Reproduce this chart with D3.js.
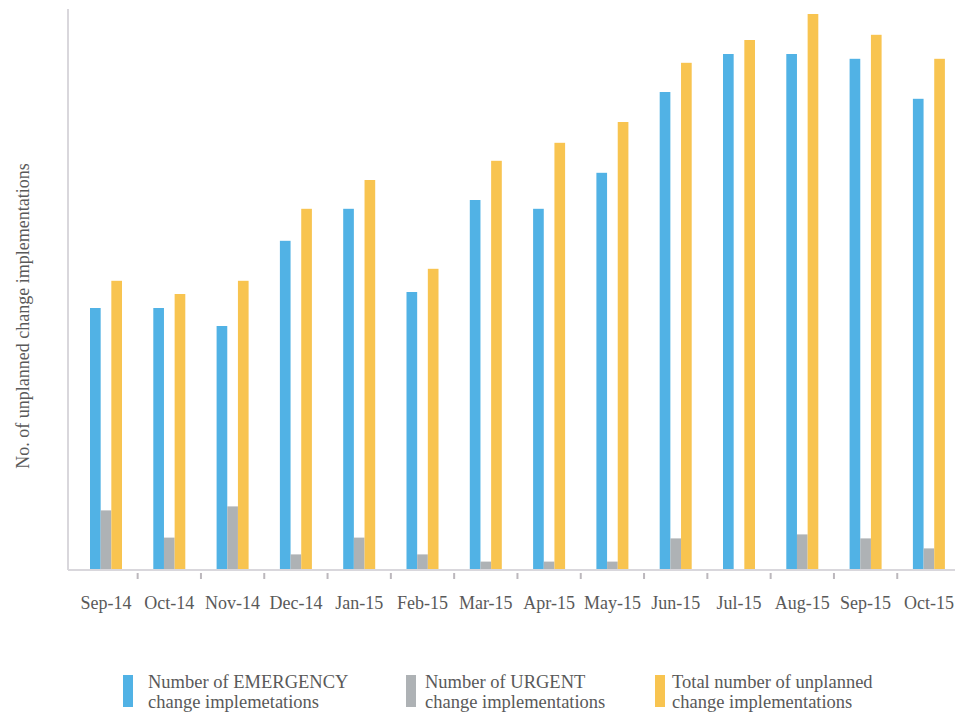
<!DOCTYPE html>
<html>
<head>
<meta charset="utf-8">
<script src="https://cdn.jsdelivr.net/npm/d3@7"></script>
<style>
  html, body { margin: 0; padding: 0; background: #ffffff; }
  svg { display: block; }
  text { font-family: "Liberation Serif", "Times New Roman", serif; fill: #595959; }
</style>
</head>
<body>
<svg id="chart" width="955" height="713"></svg>
<script>
// Monthly unplanned change implementations
const months = ["Sep-14", "Oct-14", "Nov-14", "Dec-14", "Jan-15", "Feb-15", "Mar-15",
                "Apr-15", "May-15", "Jun-15", "Jul-15", "Aug-15", "Sep-15", "Oct-15"];
const emergency = [65.5, 65.5, 61, 82.3, 90.3, 69.5, 92.5, 90.3, 99.3, 119.5, 129, 129, 127.8, 117.8];
const urgent    = [14.9, 8.1, 15.9, 3.9, 8.1, 3.9, 2.1, 2.1, 2.1, 7.9, 0, 8.9, 7.9, 5.4];
const total     = [72.3, 69, 72.3, 90.3, 97.5, 75.3, 102.3, 106.8, 112, 126.8, 132.5, 139, 133.8, 127.8];

const seriesKeys = ["emergency", "urgent", "total"];
const seriesColors = ["#51b2e5", "#aeb2b5", "#f8c450"];
const legendLines = [
  ["Number of EMERGENCY", "change implemetations"],
  ["Number of URGENT", "change implementations"],
  ["Total number of unplanned", "change implementations"]
];

const rows = months.map((m, i) => ({
  month: m, emergency: emergency[i], urgent: urgent[i], total: total[i]
}));

const svg = d3.select("#chart");
const axisColor = "#d9d7dc";
const tickColor = "#bcb8bd";

const yAxisX = 68, baseY = 570, topY = 10;

const x = d3.scaleBand().domain(months).range([74.35, 960.55]).padding(0);
const groupW = 32;
const x1 = d3.scaleBand().domain(seriesKeys)
  .range([(x.bandwidth() - groupW) / 2, (x.bandwidth() + groupW) / 2]).padding(0);
const y = d3.scaleLinear().domain([0, 140]).range([baseY, topY]);
const color = d3.scaleOrdinal().domain(seriesKeys).range(seriesColors);

// bars
const groups = svg.append("g").selectAll("g")
  .data(rows).join("g")
  .attr("transform", d => `translate(${x(d.month)},0)`);

groups.selectAll("rect")
  .data(d => seriesKeys.map(k => ({ key: k, value: d[k] })))
  .join("rect")
  .attr("x", d => x1(d.key))
  .attr("width", x1.bandwidth())
  .attr("y", d => y(d.value))
  .attr("height", d => y(0) - y(d.value))
  .attr("fill", d => color(d.key));

// y axis line (no tick labels)
const yAxis = d3.axisLeft(y).tickValues([]).tickSizeOuter(0);
svg.append("g")
  .attr("transform", `translate(${yAxisX},0)`)
  .call(yAxis)
  .call(g => g.select(".domain").attr("stroke", axisColor).attr("stroke-width", 2)
    .attr("d", `M0,${baseY}V9`));

// x axis: baseline, separator ticks between months, labels
const xAxis = d3.axisBottom(x).tickSize(0).tickPadding(0).tickSizeOuter(0);
const gx = svg.append("g")
  .attr("transform", `translate(0,${baseY})`)
  .call(xAxis);
gx.select(".domain").attr("stroke", axisColor).attr("stroke-width", 2)
  .attr("d", `M${yAxisX},0H955`);
gx.selectAll(".tick text")
  .attr("y", 39)
  .attr("dy", 0)
  .style("font-family", '"Liberation Serif", "Times New Roman", serif')
  .style("font-size", "18px")
  .attr("fill", "#595959");

svg.append("g").selectAll("line")
  .data(months.slice(0, -1))
  .join("line")
  .attr("x1", d => x(d) + x.step())
  .attr("x2", d => x(d) + x.step())
  .attr("y1", baseY + 3)
  .attr("y2", baseY + 9)
  .attr("stroke", tickColor)
  .attr("stroke-width", 2);

// y axis title
svg.append("text")
  .attr("transform", `translate(29,316) rotate(-90)`)
  .attr("text-anchor", "middle")
  .style("font-size", "18px")
  .text("No. of unplanned change implementations");

// legend
const legendX = [123, 406, 655];
const legendTextOffset = [25, 19, 17];
const legend = svg.append("g").selectAll("g")
  .data(seriesKeys).join("g")
  .attr("transform", (d, i) => `translate(${legendX[i]},675)`);
legend.append("rect")
  .attr("width", 10).attr("height", 32)
  .attr("fill", d => color(d));
legend.append("text")
  .attr("y", 13)
  .style("font-size", "18.5px")
  .selectAll("tspan")
  .data((d, i) => legendLines[i].map(t => ({ t, off: legendTextOffset[i] })))
  .join("tspan")
  .attr("x", d => d.off)
  .attr("dy", (d, i) => i === 0 ? 0 : 20)
  .text(d => d.t);
</script>
</body>
</html>
